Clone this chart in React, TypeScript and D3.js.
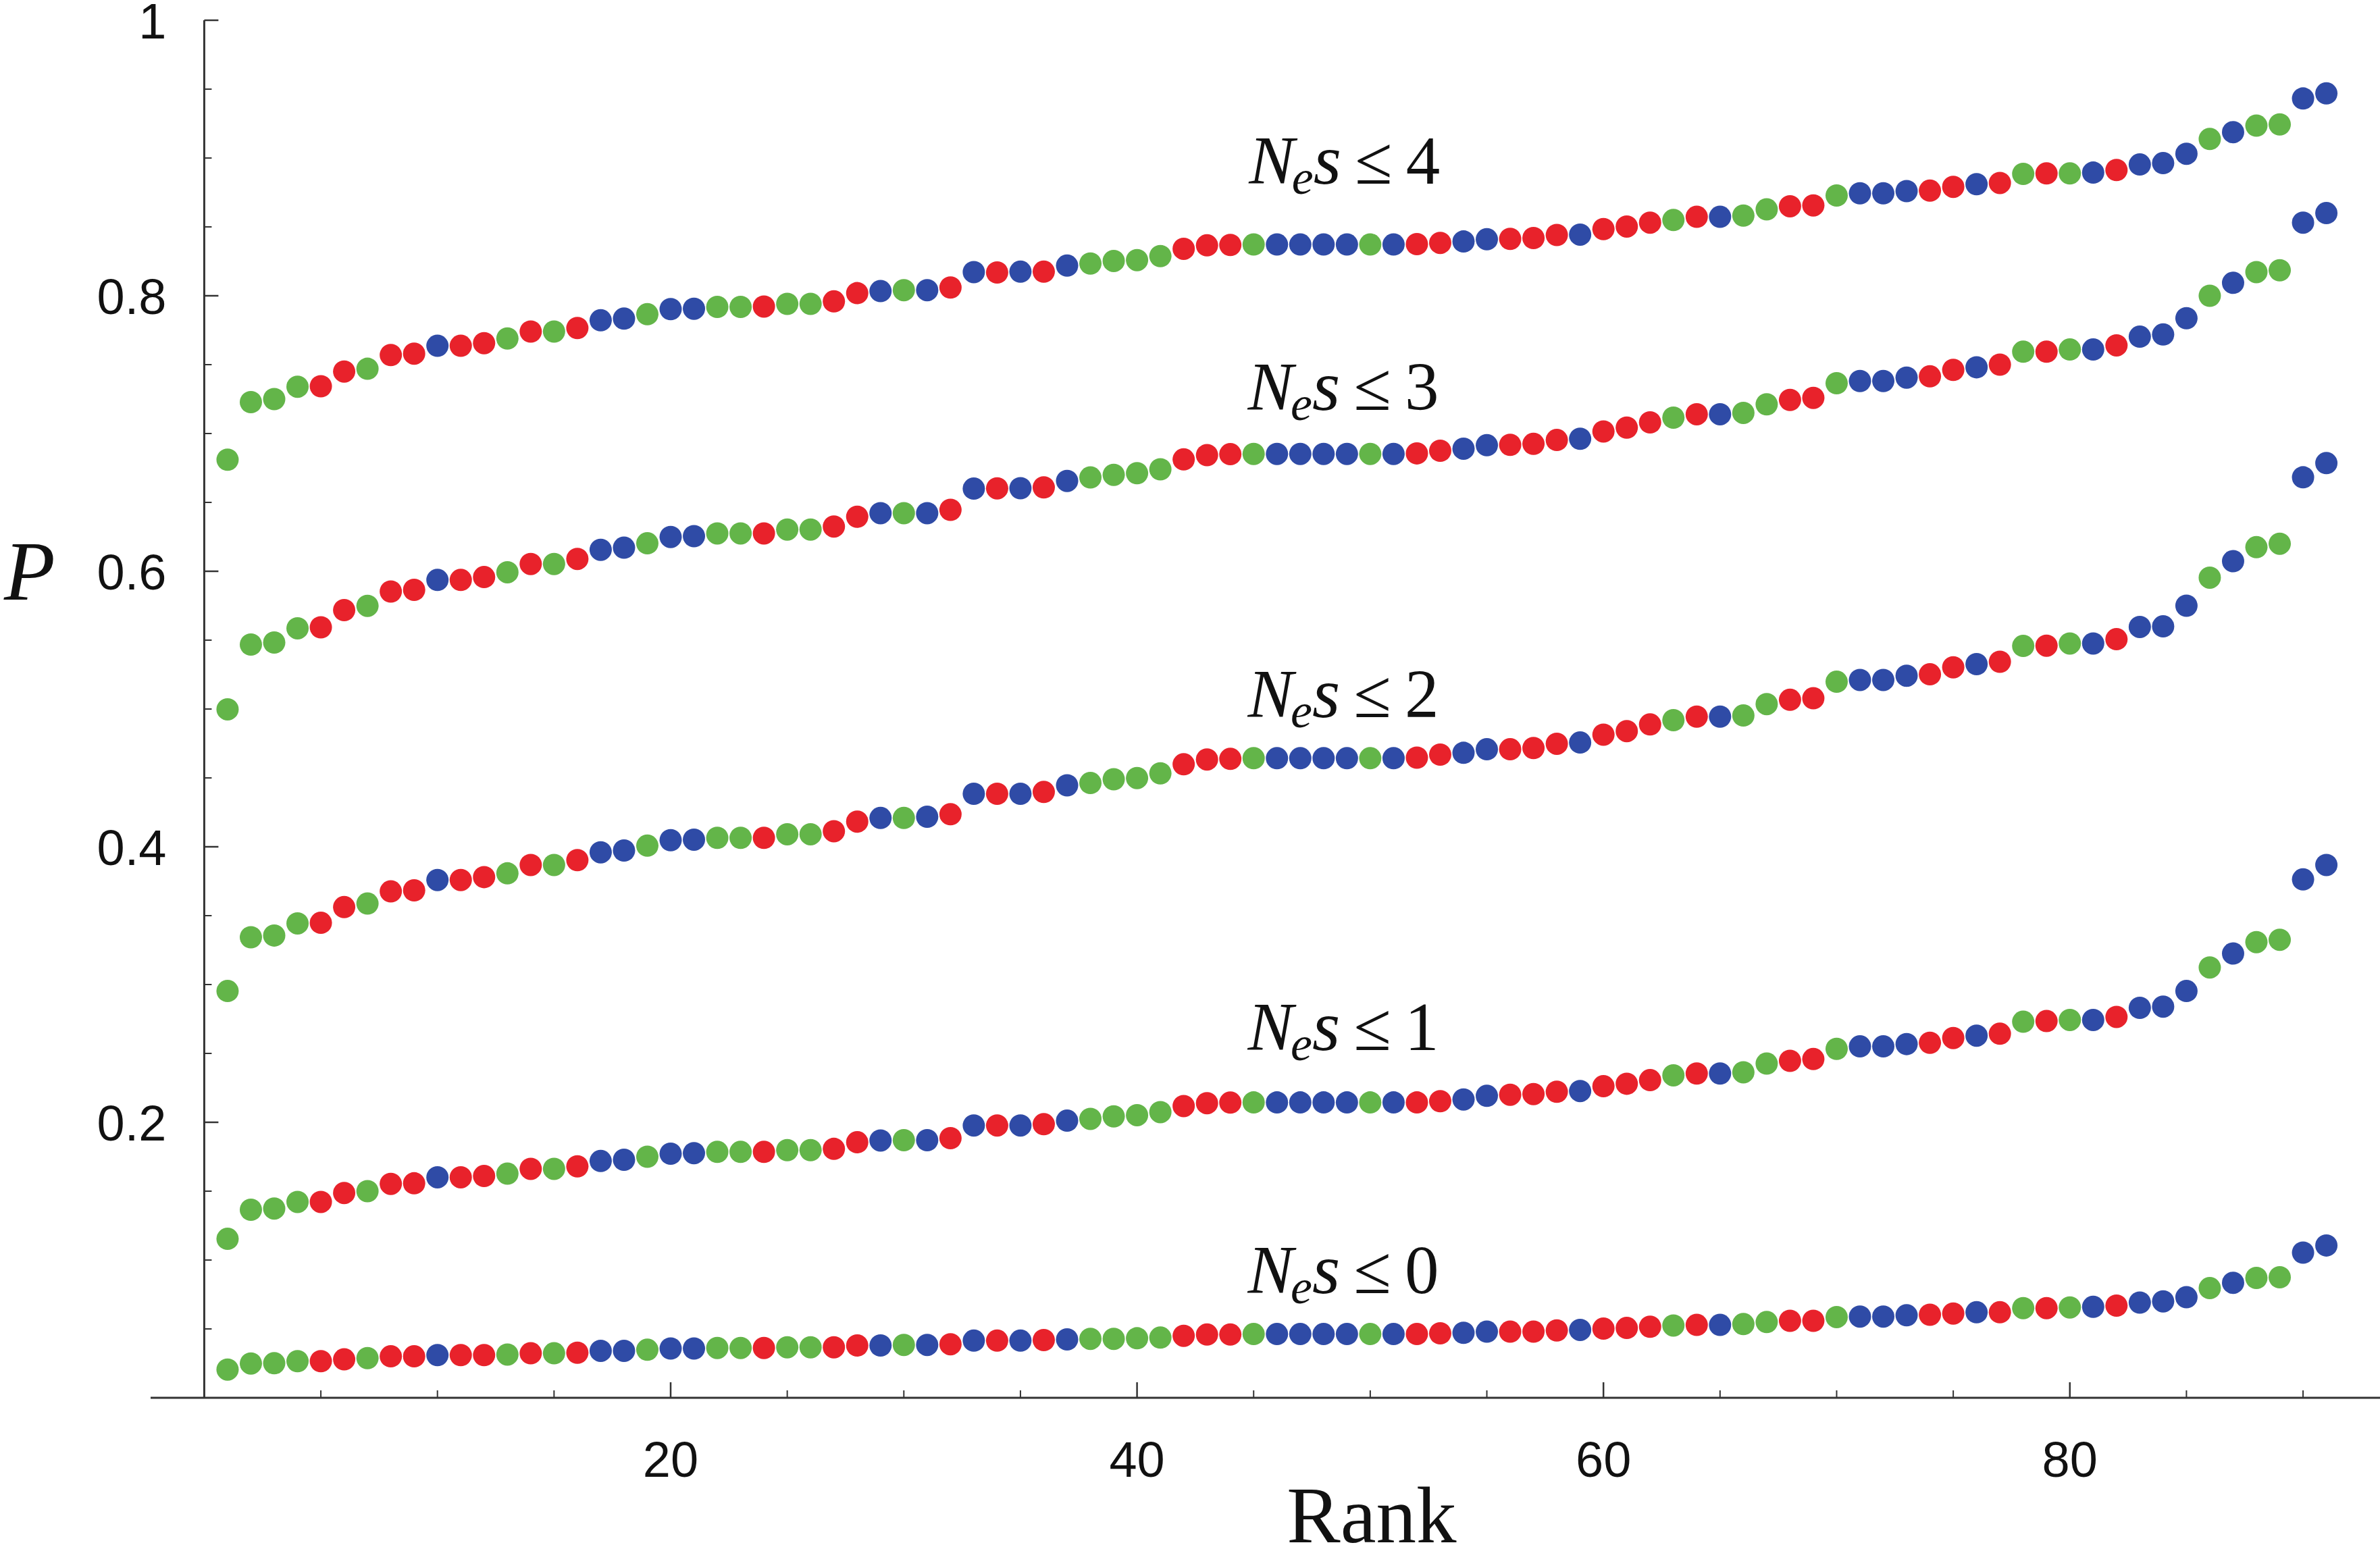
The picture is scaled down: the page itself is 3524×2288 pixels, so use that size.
import React, { useEffect, useRef } from 'react'
import { select, scaleLinear, range } from 'd3'

const width = 3524
const height = 2288

// rank colours, 10 per row (g = green, r = red, b = blue)
const rankColors = (
    'ggggrrgrrb' +
    'rrgrgrbbgb' +
    'bggrggrrbg' +
    'brbrbrbggg' +
    'grrrgbbbbg' +
    'brrbbrrrbr' +
    'rrgrbggrrg' +
    'bbbrrbrgrg' +
    'brbbbgbggb' +
    'b'
).split('')

const palette = {
    g: '#63b549',
    r: '#e8222b',
    b: '#2f4ba6'
}

const ranks = range(1, 92)

const nes0 = [
    0.0205, 0.0249, 0.0251, 0.0266, 0.0266, 0.0279, 0.0288, 0.0301, 0.0301, 0.031,
    0.031, 0.031, 0.0314, 0.0323, 0.0323, 0.0327, 0.0341, 0.0341, 0.0349, 0.0358,
    0.0358, 0.0362, 0.0362, 0.0362, 0.0367, 0.0367, 0.0367, 0.038, 0.038, 0.0384,
    0.0384, 0.0389, 0.0415, 0.0415, 0.0415, 0.0419, 0.0424, 0.0428, 0.0428, 0.0432,
    0.0437, 0.045, 0.0459, 0.0459, 0.0463, 0.0463, 0.0463, 0.0463, 0.0463, 0.0463,
    0.0463, 0.0463, 0.0468, 0.0472, 0.048, 0.048, 0.048, 0.0489, 0.0493, 0.0502,
    0.0507, 0.0516, 0.0525, 0.0529, 0.0529, 0.0535, 0.055, 0.0559, 0.0559, 0.0586,
    0.059, 0.059, 0.0599, 0.0603, 0.0612, 0.0621, 0.0621, 0.0651, 0.0651, 0.0656,
    0.066, 0.0669, 0.0691, 0.07, 0.073, 0.0796, 0.0835, 0.087, 0.0875, 0.1054,
    0.1106
]

const nes1 = [
    0.1154, 0.1365, 0.1374, 0.1422, 0.1422, 0.1487, 0.15, 0.1553, 0.1557, 0.1601,
    0.1601, 0.161, 0.1627, 0.1662, 0.1662, 0.168, 0.1719, 0.1728, 0.175, 0.1772,
    0.1776, 0.1785, 0.1785, 0.1785, 0.1798, 0.1798, 0.1807, 0.1855, 0.1868, 0.187,
    0.187, 0.1885, 0.1977, 0.1977, 0.1977, 0.1986, 0.2012, 0.2025, 0.2043, 0.2052,
    0.2074, 0.2118, 0.2139, 0.2143, 0.2144, 0.2144, 0.2144, 0.2144, 0.2144, 0.2144,
    0.2144, 0.2144, 0.2153, 0.2166, 0.2192, 0.22, 0.2205, 0.2222, 0.2227, 0.2262,
    0.228, 0.2306, 0.2341, 0.2354, 0.2354, 0.2363, 0.2426, 0.2446, 0.2459, 0.2533,
    0.2551, 0.2551, 0.2568, 0.2577, 0.2612, 0.2629, 0.2643, 0.273, 0.2735, 0.2743,
    0.2743, 0.2765, 0.2831, 0.284, 0.2953, 0.3124, 0.3225, 0.3308, 0.3325, 0.3763,
    0.3868
]

const nes2 = [
    0.2953, 0.3343, 0.3356, 0.3444, 0.3448, 0.3562, 0.3588, 0.3676, 0.3684, 0.3759,
    0.3759, 0.378, 0.3807, 0.3868, 0.3868, 0.3903, 0.396, 0.3973, 0.4008, 0.4048,
    0.4052, 0.4065, 0.4065, 0.4065, 0.4091, 0.4091, 0.4113, 0.4183, 0.4209, 0.4209,
    0.4218, 0.4236, 0.4385, 0.4385, 0.4385, 0.4398, 0.4446, 0.4463, 0.449, 0.4499,
    0.4533, 0.4599, 0.4634, 0.4638, 0.4643, 0.4643, 0.4643, 0.4643, 0.4643, 0.4643,
    0.4643, 0.4647, 0.4669, 0.4682, 0.4708, 0.4708, 0.4717, 0.4748, 0.4757, 0.4814,
    0.484, 0.4888, 0.4919, 0.4945, 0.4945, 0.4953, 0.5036, 0.5067, 0.5078, 0.5198,
    0.5211, 0.5211, 0.5242, 0.5252, 0.5303, 0.5326, 0.5343, 0.5458, 0.546, 0.5476,
    0.5476, 0.5507, 0.5596, 0.56, 0.575, 0.5954, 0.6073, 0.6175, 0.62, 0.6682,
    0.6785
]

const nes3 = [
    0.4998, 0.5468, 0.5483, 0.5586, 0.5593, 0.5718, 0.5749, 0.5853, 0.5865, 0.5937,
    0.5937, 0.5958, 0.5993, 0.6053, 0.6053, 0.609, 0.6156, 0.6171, 0.6203, 0.6249,
    0.6255, 0.6275, 0.6275, 0.6275, 0.6303, 0.6303, 0.6325, 0.6396, 0.6422, 0.6422,
    0.6422, 0.6446, 0.66, 0.6602, 0.6603, 0.6609, 0.6656, 0.6681, 0.67, 0.6712,
    0.674, 0.6812, 0.6843, 0.685, 0.6852, 0.6852, 0.6852, 0.6852, 0.6852, 0.6852,
    0.6852, 0.6856, 0.6875, 0.689, 0.6915, 0.6918, 0.6925, 0.6953, 0.6962, 0.7015,
    0.7043, 0.7081, 0.7115, 0.714, 0.714, 0.715, 0.7212, 0.7244, 0.7259, 0.7365,
    0.7381, 0.7381, 0.7406, 0.7415, 0.7462, 0.7481, 0.75, 0.7594, 0.7594, 0.761,
    0.761, 0.764, 0.7703, 0.7719, 0.7837, 0.8, 0.8094, 0.8172, 0.8185, 0.8531,
    0.86
]

const nes4 = [
    0.681, 0.7228, 0.725, 0.734, 0.7343, 0.745, 0.747, 0.757, 0.758, 0.7637,
    0.7637, 0.7656, 0.769, 0.774, 0.774, 0.7766, 0.7822, 0.7834, 0.7866, 0.7903,
    0.7906, 0.7919, 0.7919, 0.7922, 0.7941, 0.7941, 0.7959, 0.8019, 0.8034, 0.8041,
    0.8041, 0.806, 0.8172, 0.8169, 0.8175, 0.8175, 0.8219, 0.8234, 0.8253, 0.8259,
    0.8288, 0.8341, 0.8366, 0.8369, 0.8372, 0.8372, 0.8372, 0.8372, 0.8372, 0.8372,
    0.8372, 0.8375, 0.8384, 0.8394, 0.841, 0.8413, 0.8419, 0.8441, 0.8444, 0.8484,
    0.8503, 0.8531, 0.855, 0.8573, 0.8573, 0.8582, 0.8627, 0.865, 0.8656, 0.8728,
    0.8744, 0.8744, 0.876, 0.8763, 0.8791, 0.881, 0.8819, 0.8885, 0.8888, 0.8888,
    0.8894, 0.8913, 0.8953, 0.8963, 0.9031, 0.9138, 0.9188, 0.9235, 0.9244, 0.9432,
    0.9469
]

const seriesList = [nes0, nes1, nes2, nes3, nes4]
const seriesBounds = ['0', '1', '2', '3', '4']
// label anchor (rank, P) of each curve label, baseline-left
const labelRank = [44.75, 44.75, 44.75, 44.75, 44.8]
const labelP = [0.0760, 0.2525, 0.4941, 0.7172, 0.8814]

const xTicks = [20, 40, 60, 80]
const xMinorTicks = [5, 10, 15, 25, 30, 35, 45, 50, 55, 65, 70, 75, 85, 90]
const yTicks = [0.2, 0.4, 0.6, 0.8, 1]
const yTickLabels = ['0.2', '0.4', '0.6', '0.8', '1']
const yMinorTicks = [0.05, 0.1, 0.15, 0.25, 0.3, 0.35, 0.45, 0.5, 0.55, 0.65, 0.7, 0.75, 0.85, 0.9, 0.95]

const sans = '"Liberation Sans", Arial, Helvetica, sans-serif'
const serif = '"Liberation Serif", "Times New Roman", serif'

export default function App() {
    const ref = useRef(null)

    useEffect(() => {
        const svg = select(ref.current)
        svg.selectAll('*').remove()

        const xScale = scaleLinear().domain([-2.3, 93.3]).range([223, 3524])
        const yScale = scaleLinear().domain([0, 1]).range([2070, 30])
        const axisColor = '#333333'

        const axes = svg.append('g')

        // x axis
        axes.append('line')
            .attr('x1', xScale(-2.3)).attr('x2', xScale(93.3))
            .attr('y1', yScale(0)).attr('y2', yScale(0))
            .attr('stroke', axisColor).attr('stroke-width', 3)

        axes.selectAll('.xmajor').data(xTicks).enter().append('line')
            .attr('x1', d => xScale(d)).attr('x2', d => xScale(d))
            .attr('y1', yScale(0)).attr('y2', yScale(0) - 23)
            .attr('stroke', axisColor).attr('stroke-width', 2.5)

        axes.selectAll('.xminor').data(xMinorTicks).enter().append('line')
            .attr('x1', d => xScale(d)).attr('x2', d => xScale(d))
            .attr('y1', yScale(0)).attr('y2', yScale(0) - 11)
            .attr('stroke', axisColor).attr('stroke-width', 2)

        axes.selectAll('.xlabel').data(xTicks).enter().append('text')
            .attr('x', d => xScale(d))
            .attr('y', yScale(0) + 117)
            .attr('text-anchor', 'middle')
            .attr('font-family', sans)
            .attr('font-size', 74)
            .attr('fill', '#111')
            .text(d => String(d))

        // y axis
        axes.append('line')
            .attr('x1', xScale(0)).attr('x2', xScale(0))
            .attr('y1', yScale(0)).attr('y2', yScale(1))
            .attr('stroke', axisColor).attr('stroke-width', 3)

        axes.selectAll('.ymajor').data(yTicks).enter().append('line')
            .attr('x1', xScale(0)).attr('x2', xScale(0) + 21)
            .attr('y1', d => yScale(d)).attr('y2', d => yScale(d))
            .attr('stroke', axisColor).attr('stroke-width', 2.5)

        axes.selectAll('.yminor').data(yMinorTicks).enter().append('line')
            .attr('x1', xScale(0)).attr('x2', xScale(0) + 11)
            .attr('y1', d => yScale(d)).attr('y2', d => yScale(d))
            .attr('stroke', axisColor).attr('stroke-width', 2)

        axes.selectAll('.ylabel').data(yTicks).enter().append('text')
            .attr('x', xScale(0) - 56)
            .attr('y', d => yScale(d) + 27)
            .attr('text-anchor', 'end')
            .attr('font-family', sans)
            .attr('font-size', 74)
            .attr('fill', '#111')
            .text((d, i) => yTickLabels[i])

        // axis titles
        svg.append('text')
            .attr('x', (xScale(40) + xScale(60)) / 2 + 2)
            .attr('y', 2284)
            .attr('text-anchor', 'middle')
            .attr('font-family', serif)
            .attr('font-size', 119)
            .attr('fill', '#111')
            .text('Rank')

        svg.append('text')
            .attr('x', 6)
            .attr('y', 888)
            .attr('font-family', serif)
            .attr('font-style', 'italic')
            .attr('font-size', 124)
            .attr('fill', '#111')
            .text('P')

        // points
        for (let s = 0; s < seriesList.length; ++s) {
            const values = seriesList[s]
            svg.append('g')
                .selectAll('circle')
                .data(ranks)
                .enter()
                .append('circle')
                .attr('cx', d => xScale(d))
                .attr('cy', (d, i) => yScale(values[i]))
                .attr('r', 16.5)
                .attr('fill', (d, i) => palette[rankColors[i]])
        }

        // curve labels  N_e s <= k
        for (let s = 0; s < seriesList.length; ++s) {
            const t = svg.append('text')
                .attr('x', xScale(labelRank[s]))
                .attr('y', yScale(labelP[s]))
                .attr('font-family', serif)
                .attr('font-size', 101)
                .attr('fill', '#111')
            t.append('tspan').attr('font-style', 'italic').text('N')
            t.append('tspan').attr('font-style', 'italic').attr('font-size', 72)
                .attr('dx', -4).attr('dy', 15).text('e')
            t.append('tspan').attr('font-style', 'italic').attr('font-size', 106)
                .attr('dy', -15).text('s')
            t.append('tspan').text('\u2009\u2264\u2009' + seriesBounds[s])
        }
    }, [])

    return (
        <svg
            ref={ref}
            width={width}
            height={height}
            style={{ position: 'absolute', left: 0, top: 0, background: '#fff' }}
        />
    )
}
